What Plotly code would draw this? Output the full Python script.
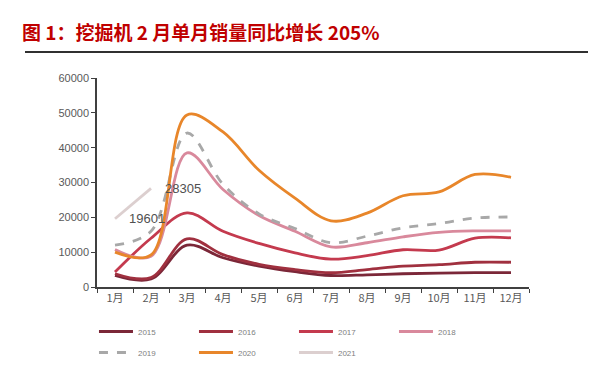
import plotly.graph_objects as go

months = ["1月", "2月", "3月", "4月", "5月", "6月", "7月", "8月", "9月", "10月", "11月", "12月"]

s2015 = [3300, 2300, 12000, 8400, 6000, 4400, 3300, 3500, 3800, 4000, 4100, 4100]
s2016 = [3800, 2700, 13800, 9300, 6500, 5000, 4100, 5000, 6000, 6400, 7100, 7100]
s2017 = [4300, 14000, 21300, 16000, 12500, 9800, 8000, 9000, 10700, 10600, 14000, 14100]
s2018 = [10800, 8800, 38500, 28000, 20500, 16000, 11500, 12700, 14400, 15700, 16100, 16100]
s2019 = [12000, 16000, 44200, 29500, 21000, 16800, 12700, 14600, 17000, 18200, 19800, 20100]
s2020 = [10000, 9200, 49400, 44500, 33500, 25500, 19000, 21200, 26200, 27300, 32300, 31500]
s2021 = [19601, 28305]

series = [
    ("2015", s2015, "#7B2738", "solid", "legend"),
    ("2016", s2016, "#A0303F", "solid", "legend"),
    ("2017", s2017, "#C43A4E", "solid", "legend"),
    ("2018", s2018, "#D9899C", "solid", "legend"),
    ("2019", s2019, "#A8A8A8", "dash", "legend2"),
    ("2020", s2020, "#E8862A", "solid", "legend2"),
    ("2021", s2021, "#DCCFCF", "solid", "legend2"),
]

fig = go.Figure()
for name, vals, color, dash, lg in series:
    fig.add_trace(go.Scatter(
        x=months[:len(vals)], y=vals, name=name, mode="lines", legend=lg,
        line=dict(color=color, width=2.8, dash=dash, shape="spline", smoothing=1.0),
    ))

for m, v in zip(months[:len(s2021)], s2021):
    fig.add_annotation(x=m, y=v, text=str(v), showarrow=False, xanchor="left",
                       yanchor="middle", xshift=12,
                       font=dict(size=13, color="#505050", family="Liberation Sans, Arial"))

legend_common = dict(orientation="h", xanchor="left", yanchor="top",
                     entrywidth=51, entrywidthmode="pixels",
                     font=dict(size=8, color="#808080"), tracegroupgap=0,
                     itemwidth=34, bgcolor="rgba(0,0,0,0)")

fig.update_layout(
    width=600, height=387,
    margin=dict(l=89, r=79, t=70, b=108, autoexpand=False),
    paper_bgcolor="white", plot_bgcolor="white",
    font=dict(family="Liberation Sans, Noto Sans CJK SC", color="#595959", size=11),
    title=dict(text="<b>图 1：挖掘机 2 月单月销量同比增长 205%</b>",
               x=14/600, xanchor="left", xref="container",
               y=1-25/387, yanchor="middle", yref="container",
               font=dict(size=19, color="#C00000", family="Noto Sans CJK SC")),
    showlegend=True,
    legend=dict(x=-0.007, y=-0.1435, **legend_common),
    legend2=dict(x=-0.007, y=-0.2440, **legend_common),
)
fig.update_xaxes(type="category", range=[-0.5, 11.5], showline=True, linecolor="#404040",
                 linewidth=1.5, ticks="outside", tickson="boundaries", ticklen=4,
                 tickcolor="#404040", showgrid=False, zeroline=False,
                 tickfont=dict(size=11, color="#595959", family="Noto Sans CJK SC"))
fig.update_yaxes(range=[0, 60000], dtick=10000, showline=True, linecolor="#404040",
                 linewidth=1.5, ticks="outside", ticklen=4, tickcolor="#404040",
                 showgrid=False, zeroline=False, tickformat="d",
                 tickfont=dict(size=11, color="#595959"))

fig.add_shape(type="line", xref="paper", yref="paper",
              x0=(25-97)/432, x1=(588-97)/432, y0=(287-52)/209, y1=(287-52)/209,
              line=dict(color="#303030", width=2))

fig.write_html("out.html")
